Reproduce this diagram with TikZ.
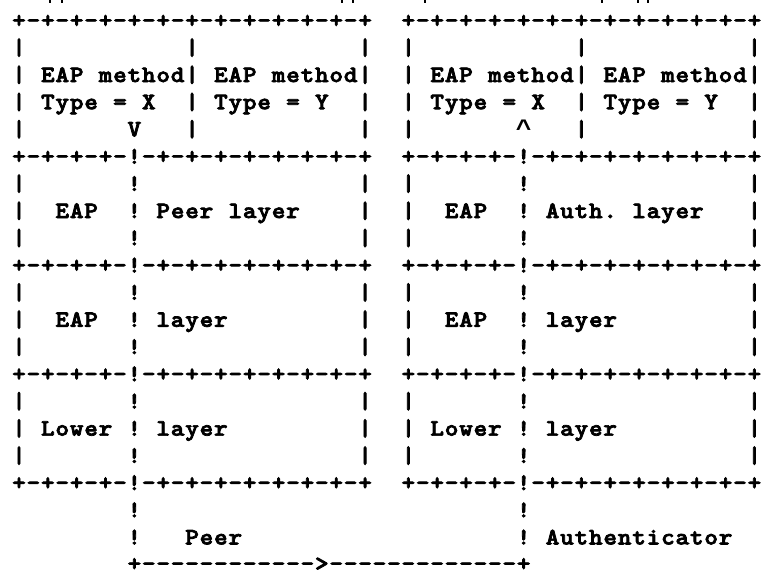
\documentclass[tikz,border=0pt]{standalone}
\usepackage{fontspec}
\usepackage{graphicx}

% heavy typewriter face for the character grid
\newfontfamily\asciifont{lmmonolt10-bold}[Extension=.otf, FakeBold=3]
% face used for the caret mark
\newfontfamily\caretfont{Liberation Mono}

% fixed column pitch of the character grid
\newlength\asciicw
\setlength\asciicw{14.42pt}

% \rowchars{...}: typesets one line of the diagram, one character per
% fixed-width cell; "_" stands for an empty cell
\def\rowstop{rowstop}
\newcommand\rowchars[1]{\rowloop#1\rowstop}
\def\rowloop#1{\ifx#1\rowstop\else
  \makebox[\asciicw][c]{\ifx#1_\else\scalebox{1.1}[1]{#1}\fi}\expandafter\rowloop\fi}
% the upward caret
\newcommand\uparrowmark{{\caretfont\bfseries\fontsize{24}{24}\selectfont\symbol{"5E}}}

\tikzset{
  asciirow/.style={anchor=base west, inner sep=0pt, outer sep=0pt,
    font=\asciifont\fontsize{23.5}{23.5}\selectfont},
  stub/.style={fill=black}
}

\begin{document}
\begin{tikzpicture}[x=1pt,y=-1pt]
  \useasboundingbox (0,0) rectangle (761,571);
  \fill[white] (0,0) rectangle (761,571);

  % tails of the line above, cut by the top edge
  \foreach \sx in {50,62,342,353,425,602,638,648}
    \fill[stub] (\sx-1.3,0) rectangle (\sx+1.3,2.6);

  % peer stack (columns 0-24) and authenticator stack (columns 27-51)
  \node[asciirow] (row1)  at (11.8, 27.6) {\rowchars{+-+-+-+-+-+-+-+-+-+-+-+-+__+-+-+-+-+-+-+-+-+-+-+-+-+}};
  \node[asciirow] (row2)  at (11.8, 54.8) {\rowchars{|___________|___________|__|___________|___________|}};
  \node[asciirow] (row3)  at (11.8, 82.0) {\rowchars{|_EAP_method|_EAP_method|__|_EAP_method|_EAP_method|}};
  \node[asciirow] (row4)  at (11.8,109.2) {\rowchars{|_Type_=_X__|_Type_=_Y__|__|_Type_=_X__|_Type_=_Y__|}};
  \node[asciirow] (row5)  at (11.8,136.4) {\rowchars{|_______V___|___________|__|_______\uparrowmark___|___________|}};
  \node[asciirow] (row6)  at (11.8,163.6) {\rowchars{+-+-+-+-!-+-+-+-+-+-+-+-+__+-+-+-+-!-+-+-+-+-+-+-+-+}};
  \node[asciirow] (row7)  at (11.8,190.8) {\rowchars{|_______!_______________|__|_______!_______________|}};
  \node[asciirow] (row8)  at (11.8,218.0) {\rowchars{|__EAP__!_Peer_layer____|__|__EAP__!_Auth._layer___|}};
  \node[asciirow] (row9)  at (11.8,245.2) {\rowchars{|_______!_______________|__|_______!_______________|}};
  \node[asciirow] (row10) at (11.8,272.4) {\rowchars{+-+-+-+-!-+-+-+-+-+-+-+-+__+-+-+-+-!-+-+-+-+-+-+-+-+}};
  \node[asciirow] (row11) at (11.8,299.6) {\rowchars{|_______!_______________|__|_______!_______________|}};
  \node[asciirow] (row12) at (11.8,326.8) {\rowchars{|__EAP__!_layer_________|__|__EAP__!_layer_________|}};
  \node[asciirow] (row13) at (11.8,354.0) {\rowchars{|_______!_______________|__|_______!_______________|}};
  \node[asciirow] (row14) at (11.8,381.2) {\rowchars{+-+-+-+-!-+-+-+-+-+-+-+-+__+-+-+-+-!-+-+-+-+-+-+-+-+}};
  \node[asciirow] (row15) at (11.8,408.4) {\rowchars{|_______!_______________|__|_______!_______________|}};
  \node[asciirow] (row16) at (11.8,435.6) {\rowchars{|_Lower_!_layer_________|__|_Lower_!_layer_________|}};
  \node[asciirow] (row17) at (11.8,462.8) {\rowchars{|_______!_______________|__|_______!_______________|}};
  \node[asciirow] (row18) at (11.8,490.0) {\rowchars{+-+-+-+-!-+-+-+-+-+-+-+-+__+-+-+-+-!-+-+-+-+-+-+-+-+}};

  % path between the two lower layers
  \node[asciirow] (row19) at (11.8,517.2) {\rowchars{________!__________________________!}};
  \node[asciirow] (row20) at (11.8,544.4) {\rowchars{________!___Peer___________________!_Authenticator}};
  \node[asciirow] (row21) at (11.8,570.8) {\rowchars{________+------------>-------------+}};
\end{tikzpicture}
\end{document}
